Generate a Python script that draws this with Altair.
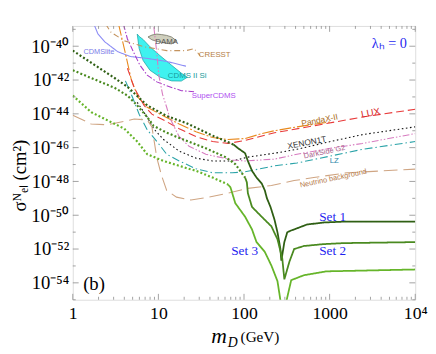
import altair as alt
import pandas as pd

W, H = 349, 279

# ---------------- axes ----------------
x_major = [1, 10, 100, 1000, 10000]
x_minor = [k * d for d in [1, 10, 100, 1000] for k in range(2, 10)]
y_major_exp = [-40, -42, -44, -46, -48, -50, -52, -54]
y_minor_exp = [-39, -41, -43, -45, -47, -49, -51, -53, -55]
Y_TOP = -38.8
Y_BOT = -55.0

# ---------------- experimental limits (m in GeV, log10 sigma) ----------------
cdmslite_m = [1.77, 1.97, 2.37, 3.34, 4.7, 7.4, 12.5, 21]
cdmslite_s = [-38.7, -39.28, -39.74, -40.32, -40.61, -40.72, -40.9, -41.18]

cresst_m = [2.43, 2.78, 4.0, 6.8, 12.5, 21, 26.1, 30.7]
cresst_s = [-38.7, -39.16, -39.68, -40.03, -40.26, -40.26, -40.14, -40.55]

supercdms_m = [3.91, 4.35, 5.22, 6.1, 7.4, 9.6, 12.5, 18.6, 26.1]
supercdms_s = [-38.7, -39.57, -40.43, -41.13, -41.71, -42.11, -42.34, -42.63, -42.69]

pandax_m = [3.43, 4.12, 4.83, 5.81, 7.4, 11.5, 17.5, 27.5, 43, 65, 103, 161, 227, 415, 1020]
pandax_s = [-38.7, -40.43, -41.99, -43.03, -43.61, -44.13, -44.6, -45.06, -45.4, -45.52,
            -45.46, -45.17, -45.0, -44.77, -44.48]

lux_m = [4.35, 5.22, 6.8, 8.4, 11.5, 17.5, 27.5, 43, 65, 103, 227, 653, 2418, 10000]
lux_s = [-41.3, -42.46, -43.5, -44.02, -44.36, -44.88, -45.35, -45.64, -45.75, -45.58,
         -45.12, -44.71, -44.19, -43.73]

xenon_m = [5.66, 7.4, 8.8, 11.5, 17.5, 27.5, 43, 73, 111, 227, 415, 1020, 2418, 10000]
xenon_s = [-43.32, -44.19, -44.88, -45.52, -46.21, -46.62, -46.79, -46.79, -46.56, -46.33,
           -46.1, -45.64, -45.23, -44.77]

darkside_m = [8.86, 9.6, 10.1, 11.2, 12.5, 13.5, 14.9, 17.5, 22.8, 35.8, 73, 103, 227, 415,
              1020, 2418, 10000]
darkside_s = [-38.87, -40.43, -41.71, -42.86, -43.61, -44.19, -44.65, -45.35, -45.92, -46.39,
              -46.73, -46.79, -46.68, -46.39, -46.04, -45.75, -45.17]

lz_m = [4.12, 5.0, 5.96, 7.4, 9.6, 12.5, 17.5, 27.5, 43, 73, 103, 227, 415, 1020, 2418, 10000]
lz_s = [-42.05, -43.03, -44.02, -44.94, -45.64, -46.39, -46.79, -47.25, -47.49, -47.49,
        -47.43, -47.08, -46.91, -46.5, -46.1, -45.64]

nu_m = [1, 1.64, 2.56, 5.22, 7.4, 8.4, 9.6, 10.9, 12.5, 16.3, 24, 38.9, 65, 111, 209, 385,
        653, 1580, 10000]
nu_s = [-44.08, -44.6, -44.65, -44.31, -44.36, -44.77, -46.62, -47.66, -48.53, -48.93, -49.1,
        -48.93, -48.7, -48.41, -48.24, -47.95, -47.77, -47.49, -47.27]

exp_names = ["CDMSlite", "CRESST", "SuperCDMS", "PandaX-II", "LUX", "XENON1T",
             "DarkSide G2", "LZ", "Neutrino background"]
exp_colors = ["#8c8cf5", "#c4935e", "#a83cc8", "#e8891e", "#e83a3a", "#111111",
              "#d77cc0", "#2aa3a8", "#cfa583"]
exp_dashes = [[1, 0], [6, 3, 1, 3], [6, 2, 1.5, 2], [12, 2, 2, 2], [8, 4], [1.6, 2.6],
              [7, 2, 1.5, 2, 1.5, 2], [8, 3, 1.5, 3], [14, 6]]
exp_widths = [1.1, 1.1, 1.1, 1.2, 1.2, 1.8, 1.2, 1.2, 1.2]
exp_data = [(cdmslite_m, cdmslite_s), (cresst_m, cresst_s), (supercdms_m, supercdms_s),
            (pandax_m, pandax_s), (lux_m, lux_s), (xenon_m, xenon_s),
            (darkside_m, darkside_s), (lz_m, lz_s), (nu_m, nu_s)]

# ---------------- filled regions ----------------
si_m = [5.66, 5.96, 6.63, 7.97, 10.4, 14.3, 18.5, 21.7]
si_hi = [-39.28, -39.42, -39.6, -40.03, -40.55, -41.13, -41.59, -41.84]
si_lo = [-39.28, -40.14, -40.84, -41.42, -41.82, -42.05, -42.06, -41.84]

dama_m = [7.56, 8.4, 9.59, 10.9, 12.5, 14.2, 16.3]
dama_hi = [-39.45, -39.34, -39.28, -39.31, -39.36, -39.45, -39.68]
dama_lo = [-39.45, -39.62, -39.71, -39.77, -39.83, -39.86, -39.68]

# ---------------- model curves (Set 1, 2, 3) ----------------
set1_dot_m = [1, 1.97, 3.08, 4.35, 7.4, 12.5, 21, 43, 75]
set1_dot_s = [-40.26, -41.24, -41.88, -42.4, -43.5, -44.13, -44.54, -45.29, -45.81]
set1_sol_m = [75, 85.5, 103, 111, 124, 140, 161, 175, 185, 204, 227, 246, 266, 273, 296, 320,
              356, 385, 544, 849, 1439, 10000]
set1_sol_s = [-45.81, -46.04, -46.33, -46.79, -47.37, -47.77, -48.12, -48.53, -48.99, -49.51,
              -50.26, -51.01, -51.99, -52.69, -51.59, -51.01, -50.9, -50.84, -50.55, -50.43,
              -50.38, -50.38]

set2_dot_m = [1, 1.64, 3.08, 4.35, 5.66, 7.4, 8.8, 12.5, 21, 35.8, 60.7, 79, 103]
set2_dot_s = [-41.42, -41.88, -42.46, -42.92, -43.5, -44.19, -44.71, -45.12, -45.58, -46.04,
              -46.56, -46.97, -47.77]
set2_sol_m = [103, 108, 111, 124, 161, 209, 246, 280, 296, 339, 385, 501, 849, 1439, 10000]
set2_sol_s = [-47.77, -48.06, -48.7, -49.51, -50.09, -50.66, -51.42, -52.57, -53.79, -52.75,
              -52.0, -51.82, -51.71, -51.65, -51.59]

set3_dot_m = [1, 1.64, 2.78, 4.0, 5.66, 7.4, 11.5, 21, 27.5, 43, 65]
set3_dot_s = [-42.92, -43.9, -44.48, -44.88, -45.64, -46.39, -46.79, -47.2, -47.37, -47.77,
              -48.18]
set3_sol_m = [65, 69.5, 79, 103, 124, 140, 175, 209, 246, 285, 325, 356, 501, 915, 10000]
set3_sol_s = [-48.18, -48.35, -49.28, -50.09, -50.84, -51.59, -52.17, -52.98, -53.9, -56.0,
              -54.71, -53.84, -53.55, -53.32, -53.21]

set_names = ["Set 1", "Set 2", "Set 3"]
set_colors = ["#2f5f14", "#4a8a20", "#66b52a"]
set_data = [(set1_dot_m, set1_dot_s, set1_sol_m, set1_sol_s),
            (set2_dot_m, set2_dot_s, set2_sol_m, set2_sol_s),
            (set3_dot_m, set3_dot_s, set3_sol_m, set3_sol_s)]

# ---------------- labels ----------------
lab_text = ["DAMA", "CRESST", "CDMSlite", "CDMS II Si", "SuperCDMS", "PandaX-II", "LUX",
            "XENON1T", "DarkSide G2", "LZ", "Neutrino background"]
lab_m = [12.5, 45.5, 2.02, 21.7, 44.3, 764, 3013, 542, 871, 1135, 1106]
lab_s = [-39.74, -40.55, -40.32, -41.76, -42.92, -44.36, -43.96, -45.69, -46.27, -46.79, -47.83]
lab_color = ["#555555", "#b57d45", "#7a7ae8", "#1a9a9a", "#b050f0", "#a86a18", "#d82828",
             "#333333", "#a85d8a", "#2a86a8", "#b57a48"]
lab_size = [8, 8, 7.5, 8, 8, 8.5, 10, 8.5, 7.5, 8, 7.5]
lab_angle = [0, 0, 0, 0, 0, 349, 349, 349, 348, 0, 348]

set_lab_text = ["Set 1", "Set 2", "Set 3"]
set_lab_m = [1084, 1084, 101.6]
set_lab_s = [-50.09, -52.11, -52.11]

# ---------------- build tables ----------------
rows = []
for name, (ms, ss) in zip(exp_names, exp_data):
    for i, (m, s) in enumerate(zip(ms, ss)):
        rows.append({"name": name, "m": m, "sig": 10.0 ** s, "o": i})
exp_df = pd.DataFrame(rows)

rows = []
for name, (dm, ds, sm, ss) in zip(set_names, set_data):
    for i, (m, s) in enumerate(zip(dm, ds)):
        rows.append({"set": name, "part": "dot", "key": name + "dot", "m": m, "sig": 10.0 ** s, "o": i})
    for i, (m, s) in enumerate(zip(sm, ss)):
        rows.append({"set": name, "part": "solid", "key": name + "solid", "m": m, "sig": 10.0 ** s, "o": i})
set_df = pd.DataFrame(rows)

si_df = pd.DataFrame({"m": si_m, "hi": [10.0 ** v for v in si_hi], "lo": [10.0 ** v for v in si_lo]})
dama_df = pd.DataFrame({"m": dama_m, "hi": [10.0 ** v for v in dama_hi], "lo": [10.0 ** v for v in dama_lo]})
lab_df = pd.DataFrame({"t": lab_text, "m": lab_m, "sig": [10.0 ** v for v in lab_s],
                       "c": lab_color, "a": lab_angle, "fs": lab_size})
set_lab_df = pd.DataFrame({"t": set_lab_text, "m": set_lab_m, "sig": [10.0 ** v for v in set_lab_s]})

xs = alt.Scale(type="log", domain=[1, 10000], nice=False)
ys = alt.Scale(type="log", domain=[10.0 ** Y_BOT, 10.0 ** Y_TOP], nice=False)

SUP = str.maketrans("-0123456789", "⁻⁰¹²³⁴⁵⁶⁷⁸⁹")
y_expr = ""
for e in y_major_exp[:-1]:
    y_expr += f"datum.value > {10.0 ** (e - 1):.0e} ? '10{str(e).translate(SUP)}' : "
y_expr += f"'10{str(y_major_exp[-1]).translate(SUP)}'"
x_expr = "datum.value >= 5000 ? '10⁴' : format(datum.value, 'd')"

x_axis = alt.Axis(values=x_major, labelExpr=x_expr, title=None, grid=False, ticks=False,
                  domain=False, labelFont="Liberation Serif", labelFontSize=18,
                  labelColor="black", labelPadding=5, labelFlush=False, labelOverlap=False)
y_axis = alt.Axis(values=[10.0 ** e for e in y_major_exp], labelExpr=y_expr,
                  title="σᴺₑₗ (cm²)", titleFont="Liberation Serif", titleFontSize=19,
                  titleFontWeight="normal", titleColor="black", titlePadding=2, titleY=152,
                  grid=False, ticks=False, domain=False, labelFont="Liberation Serif",
                  labelFontSize=19, labelColor="black", labelPadding=4,
                  labelFlush=False, labelOverlap=False)

X = lambda f: alt.X(f, scale=xs, axis=x_axis)
Y = lambda f: alt.Y(f, scale=ys, axis=y_axis)

si = alt.Chart(si_df).mark_area(fill="#3ff2f0", stroke="#22a8a8", strokeWidth=0.8, clip=True).encode(
    x=X("m:Q"), y=Y("hi:Q"), y2="lo:Q")

dama = alt.Chart(dama_df).mark_area(fill="#cfcfbd", stroke="#6f6f60", strokeWidth=0.8, clip=True).encode(
    x=X("m:Q"), y=Y("hi:Q"), y2="lo:Q")

exps = alt.Chart(exp_df).mark_line(clip=True).encode(
    x=X("m:Q"), y=Y("sig:Q"),
    color=alt.Color("name:N", scale=alt.Scale(domain=exp_names, range=exp_colors), legend=None),
    strokeDash=alt.StrokeDash("name:N", scale=alt.Scale(domain=exp_names, range=exp_dashes), legend=None),
    strokeWidth=alt.StrokeWidth("name:N", scale=alt.Scale(domain=exp_names, range=exp_widths), legend=None),
    order="o:Q")

sets = alt.Chart(set_df).mark_line(clip=True).encode(
    x=X("m:Q"), y=Y("sig:Q"),
    color=alt.Color("set:N", scale=alt.Scale(domain=set_names, range=set_colors), legend=None),
    strokeDash=alt.StrokeDash("part:N", scale=alt.Scale(domain=["dot", "solid"], range=[[2, 2.2], [1, 0]]), legend=None),
    strokeWidth=alt.StrokeWidth("part:N", scale=alt.Scale(domain=["dot", "solid"], range=[2.2, 1.8]), legend=None),
    detail="key:N",
    order="o:Q")

labels = alt.Chart(lab_df).mark_text(font="Liberation Sans", align="center",
                                     baseline="middle").encode(
    x=X("m:Q"), y=Y("sig:Q"), text="t:N",
    color=alt.Color("c:N", scale=None),
    size=alt.Size("fs:Q", scale=None),
    angle=alt.Angle("a:Q", scale=None))

set_labels = alt.Chart(set_lab_df).mark_text(font="Liberation Serif", fontSize=13.5, align="center",
                                             baseline="middle", color="#1f1ff0").encode(
    x=X("m:Q"), y=Y("sig:Q"), text="t:N")

misc_df = pd.DataFrame({"t": ["λₕ = 0", "(b)"], "m": [4977, 1.77], "sig": [10.0 ** -39.86, 10.0 ** -54.08],
                        "c": ["#1f1ff0", "#000000"], "fs": [14.5, 19]})
misc = alt.Chart(misc_df).mark_text(font="Liberation Serif", align="center", baseline="middle").encode(
    x=X("m:Q"), y=Y("sig:Q"), text="t:N",
    color=alt.Color("c:N", scale=None),
    size=alt.Size("fs:Q", scale=None))

# inward ticks (frame style)
tick_col = "#8a8a8a"
xmaj_df = pd.DataFrame({"v": x_major})
xmin_df = pd.DataFrame({"v": x_minor})
ymaj_df = pd.DataFrame({"v": [10.0 ** e for e in y_major_exp]})
ymin_df = pd.DataFrame({"v": [10.0 ** e for e in y_minor_exp]})

def xticks(df, y0, y1):
    return alt.Chart(df).mark_rule(color=tick_col, strokeWidth=0.8).encode(
        x=X("v:Q"), y=alt.value(y0), y2=alt.value(y1))

def yticks(df, x0, x1):
    return alt.Chart(df).mark_rule(color=tick_col, strokeWidth=0.8).encode(
        y=Y("v:Q"), x=alt.value(x0), x2=alt.value(x1))

ticks = [xticks(xmaj_df, H, H - 6), xticks(xmin_df, H, H - 3),
         xticks(xmaj_df, 0, 6), xticks(xmin_df, 0, 3),
         yticks(ymaj_df, 0, 6), yticks(ymin_df, 0, 3),
         yticks(ymaj_df, W, W - 6), yticks(ymin_df, W, W - 3)]

# x-axis title: m_D (GeV)
xt = [
    alt.Chart(pd.DataFrame({"t": ["m"]})).mark_text(font="Liberation Serif", fontSize=22, fontStyle="italic",
                                                    align="left", baseline="alphabetic", color="black").encode(
        text="t:N", x=alt.value(141), y=alt.value(323)),
    alt.Chart(pd.DataFrame({"t": ["D"]})).mark_text(font="Liberation Serif", fontSize=14, fontStyle="italic",
                                                    align="left", baseline="alphabetic", color="black").encode(
        text="t:N", x=alt.value(158), y=alt.value(327)),
    alt.Chart(pd.DataFrame({"t": ["(GeV)"]})).mark_text(font="Liberation Serif", fontSize=15.5,
                                                        align="left", baseline="alphabetic", color="black").encode(
        text="t:N", x=alt.value(171), y=alt.value(322)),
]

chart = alt.layer(si, dama, exps, sets, labels, set_labels, misc, *ticks, *xt).resolve_scale(
    color="independent", strokeDash="independent", strokeWidth="independent", size="independent"
).properties(
    width=W, height=H,
    autosize=alt.AutoSizeParams(type="none"),
    padding={"left": 66, "top": 15, "right": 13, "bottom": 52},
).configure_view(stroke="#999999", strokeWidth=1).configure(background="white")

chart.save("out.html", embed_options={"renderer": "svg", "actions": False})
